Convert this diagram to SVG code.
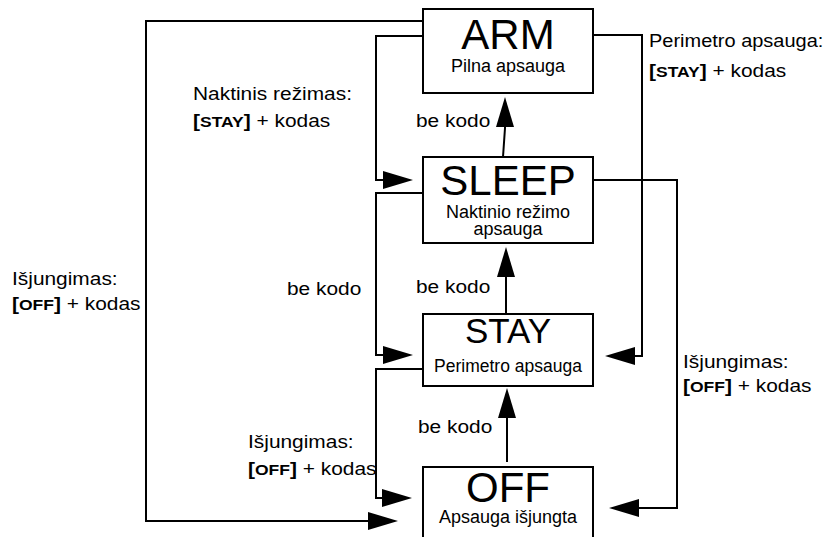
<svg xmlns="http://www.w3.org/2000/svg" width="833" height="537" viewBox="0 0 833 537">
<style>
.box{fill:#fff;stroke:#000;stroke-width:2}
.big{font-family:"Liberation Sans",Arial,sans-serif;fill:#000;text-anchor:middle}
.sub{font-family:"Liberation Sans",Arial,sans-serif;fill:#000;text-anchor:middle}
.lbl{font-family:"Liberation Sans",Arial,sans-serif;font-size:18.5px;fill:#000}
.kb{font-weight:bold}
.kc{font-weight:bold;font-size:15.5px}
.con{fill:none;stroke:#000;stroke-width:2}
</style>
<defs>
<marker id="ah" viewBox="0 -9 30 18" refX="2" refY="0" markerWidth="30" markerHeight="18" markerUnits="userSpaceOnUse" orient="auto">
<path d="M0,-9 L30,0 L0,9 Z" fill="#000"/>
</marker>
</defs>
<g id="connectors">
<path class="con" d="M423,21 H146 V521 H370" marker-end="url(#ah)"/>
<path class="con" d="M423,36 H376 V180 H385" marker-end="url(#ah)"/>
<path class="con" d="M423,193 H376 V355 H385" marker-end="url(#ah)"/>
<path class="con" d="M423,369 H376 V498 H384" marker-end="url(#ah)"/>
<path class="con" d="M594,35 H642 V356 H633" marker-end="url(#ah)"/>
<path class="con" d="M594,180 H677 V508 H637" marker-end="url(#ah)"/>
<path class="con" d="M503,157 L505,128 L505,125" marker-end="url(#ah)"/>
<path class="con" d="M506,314 V275" marker-end="url(#ah)"/>
<path class="con" d="M507,462 V416" marker-end="url(#ah)"/>
</g>
<g id="node-arm">
<rect class="box" x="423" y="9" width="170" height="84"/>
<text class="big" x="508" y="49" font-size="42">ARM</text>
<text class="sub" x="508" y="72" font-size="18">Pilna apsauga</text>
</g>
<g id="node-sleep">
<rect class="box" x="423" y="157" width="170" height="86"/>
<text class="big" x="508" y="195" font-size="42">SLEEP</text>
<text class="sub" x="508" y="218" font-size="18">Naktinio režimo</text>
<text class="sub" x="508" y="235" font-size="18">apsauga</text>
</g>
<g id="node-stay">
<rect class="box" x="423" y="314" width="170" height="72"/>
<text class="big" x="508" y="343" font-size="35">STAY</text>
<text class="sub" x="508" y="372" font-size="17.5">Perimetro apsauga</text>
</g>
<g id="node-off">
<rect class="box" x="423" y="467" width="170" height="80"/>
<text class="big" x="508" y="502" font-size="42">OFF</text>
<text class="sub" x="508" y="523" font-size="18">Apsauga išjungta</text>
</g>
<g id="labels">
<text class="lbl" transform="translate(193,100) scale(1.13,1)">Naktinis režimas:</text>
<text class="lbl" transform="translate(193,127) scale(1.13,1)"><tspan class="kb">[</tspan><tspan class="kc">STAY</tspan><tspan class="kb">]</tspan> + kodas</text>
<text class="lbl" transform="translate(649,47) scale(1.08,1)">Perimetro apsauga:</text>
<text class="lbl" transform="translate(649,77) scale(1.13,1)"><tspan class="kb">[</tspan><tspan class="kc">STAY</tspan><tspan class="kb">]</tspan> + kodas</text>
<text class="lbl" transform="translate(416,127) scale(1.13,1)">be kodo</text>
<text class="lbl" transform="translate(12,285) scale(1.13,1)">Išjungimas:</text>
<text class="lbl" transform="translate(12,310) scale(1.13,1)"><tspan class="kb">[</tspan><tspan class="kc">OFF</tspan><tspan class="kb">]</tspan> + kodas</text>
<text class="lbl" transform="translate(287,295) scale(1.13,1)">be kodo</text>
<text class="lbl" transform="translate(416,293) scale(1.13,1)">be kodo</text>
<text class="lbl" transform="translate(683,368) scale(1.13,1)">Išjungimas:</text>
<text class="lbl" transform="translate(683,392) scale(1.13,1)"><tspan class="kb">[</tspan><tspan class="kc">OFF</tspan><tspan class="kb">]</tspan> + kodas</text>
<text class="lbl" transform="translate(248,448) scale(1.13,1)">Išjungimas:</text>
<text class="lbl" transform="translate(248,475) scale(1.13,1)"><tspan class="kb">[</tspan><tspan class="kc">OFF</tspan><tspan class="kb">]</tspan> + kodas</text>
<text class="lbl" transform="translate(418,433) scale(1.13,1)">be kodo</text>
</g>
</svg>
